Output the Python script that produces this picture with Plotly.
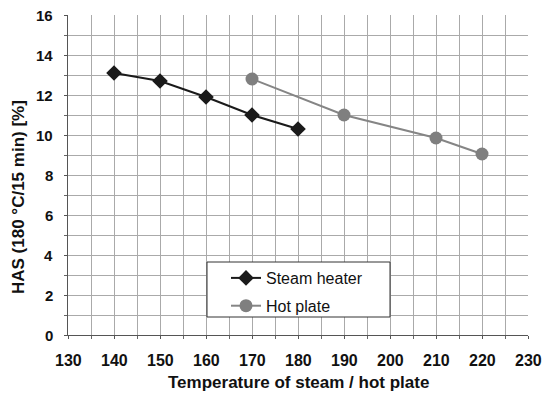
import plotly.graph_objects as go

steam_x = [140, 150, 160, 170, 180]
steam_y = [13.1, 12.7, 11.9, 11.0, 10.3]
hot_x = [170, 190, 210, 220]
hot_y = [12.8, 11.0, 9.85, 9.05]

x_ticks = [130, 140, 150, 160, 170, 180, 190, 200, 210, 220, 230]
y_ticks = [0, 2, 4, 6, 8, 10, 12, 14, 16]

font = "Liberation Sans, Arial, sans-serif"
L, R, T, B = 68, 15, 15, 58
PW, PH = 543 - L - R, 393 - T - B

def px_x(p):
    return (p - L) / PW

def px_y(p):
    return (393 - B - p) / PH

fig = go.Figure()
fig.add_trace(go.Scatter(
    x=steam_x, y=steam_y, name="Steam heater", mode="lines+markers",
    line=dict(color="#1a1a1a", width=2),
    marker=dict(symbol="diamond", size=12, color="#1a1a1a"),
    legendgroup="a",
))
fig.add_trace(go.Scatter(
    x=hot_x, y=hot_y, name="Hot plate", mode="lines+markers",
    line=dict(color="#858585", width=2),
    marker=dict(symbol="circle", size=13, color="#7f7f7f"),
    legendgroup="b",
))

fig.add_shape(type="rect", xref="paper", yref="paper",
              x0=px_x(207), x1=px_x(390), y0=px_y(317), y1=px_y(262),
              line=dict(color="#333", width=1), fillcolor="white", layer="above")

annotations = []
for v in x_ticks:
    annotations.append(dict(text="<b>%d</b>" % v, xref="x", yref="paper", x=v, y=px_y(360),
                            xanchor="center", yanchor="middle", showarrow=False,
                            font=dict(size=16, family=font, color="#111")))
for v in y_ticks:
    annotations.append(dict(text="<b>%d</b>" % v, xref="paper", yref="y", x=px_x(55), y=v,
                            xanchor="right", yanchor="middle", showarrow=False,
                            font=dict(size=15, family=font, color="#111")))
annotations += [
    dict(text="<b>Temperature of steam / hot plate</b>", xref="paper", yref="paper",
         x=px_x(298), y=px_y(382), xanchor="center", yanchor="middle", showarrow=False,
         font=dict(size=17, family=font, color="#111")),
    dict(text="<b>HAS (180 °C/15 min) [%]</b>", xref="paper", yref="paper",
         x=px_x(18), y=px_y(197), xanchor="center", yanchor="middle", showarrow=False,
         textangle=-90, font=dict(size=17, family=font, color="#111")),
]

fig.update_layout(
    width=543, height=393,
    margin=dict(l=L, r=R, t=T, b=B),
    paper_bgcolor="white", plot_bgcolor="white",
    font=dict(family=font, size=13, color="#111"),
    legend=dict(
        x=px_x(226), y=px_y(261), xanchor="left", yanchor="top",
        bgcolor="rgba(0,0,0,0)", borderwidth=0,
        font=dict(size=16, color="#111"),
        itemwidth=30, traceorder="grouped", tracegroupgap=4,
    ),
    xaxis=dict(
        range=[130, 230], tickvals=x_ticks, showticklabels=False,
        showgrid=True, gridcolor="#aaaaaa", gridwidth=1,
        minor=dict(dtick=5, showgrid=True, gridcolor="#aaaaaa", gridwidth=1, ticks="outside", ticklen=3, tickcolor="#666"),
        showline=True, linecolor="#555", linewidth=1,
        ticks="outside", ticklen=3, tickcolor="#555",
        automargin=False, zeroline=False,
    ),
    yaxis=dict(
        range=[0, 16], tickvals=y_ticks, showticklabels=False,
        showgrid=True, gridcolor="#aaaaaa", gridwidth=1,
        minor=dict(dtick=1, showgrid=True, gridcolor="#aaaaaa", gridwidth=1, ticks="outside", ticklen=3, tickcolor="#666"),
        showline=True, linecolor="#555", linewidth=1,
        ticks="outside", ticklen=3, tickcolor="#555",
        automargin=False, zeroline=False,
    ),
    annotations=annotations,
)

fig.write_html("out.html")
